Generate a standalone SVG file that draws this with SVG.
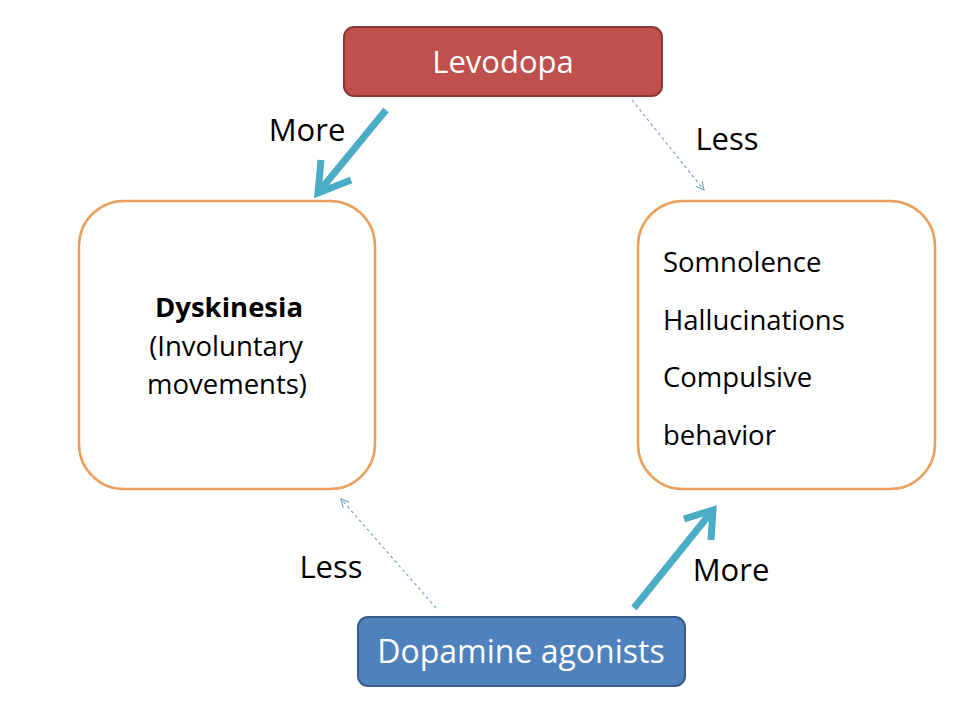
<svg xmlns="http://www.w3.org/2000/svg" width="960" height="720" viewBox="0 0 960 720">
<style>
text{font-family:"Open Sans","Liberation Sans",sans-serif;fill:#000}
.box{fill:#fff;stroke:#eb9f5c;stroke-width:2.5}
.lbl{font-size:31px;text-anchor:middle}
.body{font-size:27.5px}
.thick{stroke:#4bacc6;stroke-width:7;fill:none;stroke-linecap:butt}
.dash{stroke:#7ea3c4;stroke-width:1.2;stroke-dasharray:3 3;fill:none}
</style>
<defs>
<marker id="open" viewBox="0 0 10 10" refX="9" refY="5" markerWidth="10" markerHeight="10" orient="auto" markerUnits="userSpaceOnUse">
<path d="M1,1 L9,5 L1,9" fill="none" stroke="#7ea3c4" stroke-width="1.2"/>
</marker>
</defs>
<rect width="960" height="720" fill="#fff"/>
<g id="connectors">
<line class="thick" x1="386" y1="110" x2="322" y2="188"/>
<polyline class="thick" points="321,160 318,193 351,180"/>
<line class="thick" x1="634" y1="608" x2="709" y2="515"/>
<polyline class="thick" points="684,519 713,510 711,540"/>
<line class="dash" x1="632" y1="100" x2="704" y2="190" marker-end="url(#open)"/>
<line class="dash" x1="436" y1="608" x2="341" y2="499" marker-end="url(#open)"/>
<text class="lbl" x="307" y="141">More</text>
<text class="lbl" x="727" y="150">Less</text>
<text class="lbl" x="331" y="578">Less</text>
<text class="lbl" x="731" y="581">More</text>
</g>
<g id="levodopa">
<rect x="344" y="27" width="318" height="69" rx="10" fill="#c0504d" stroke="#8c3836" stroke-width="2"/>
<text x="503" y="73" font-size="31" text-anchor="middle" style="fill:#fff">Levodopa</text>
</g>
<g id="dyskinesia">
<rect class="box" x="79" y="201" width="296" height="288" rx="45"/>
<text class="body" x="229" y="317" text-anchor="middle" font-weight="bold">Dyskinesia</text>
<text class="body" x="226" y="356" text-anchor="middle">(Involuntary</text>
<text class="body" x="227" y="394" text-anchor="middle">movements)</text>
</g>
<g id="side-effects">
<rect class="box" x="638" y="201" width="297" height="288" rx="45"/>
<text class="body" x="663" y="272">Somnolence</text>
<text class="body" x="663" y="330">Hallucinations</text>
<text class="body" x="663" y="387">Compulsive</text>
<text class="body" x="663" y="445">behavior</text>
</g>
<g id="dopamine">
<rect x="358" y="617" width="327" height="69" rx="10" fill="#4f81bd" stroke="#385d8a" stroke-width="2"/>
<text x="521" y="663" font-size="32" text-anchor="middle" style="fill:#fff">Dopamine agonists</text>
</g>
</svg>
